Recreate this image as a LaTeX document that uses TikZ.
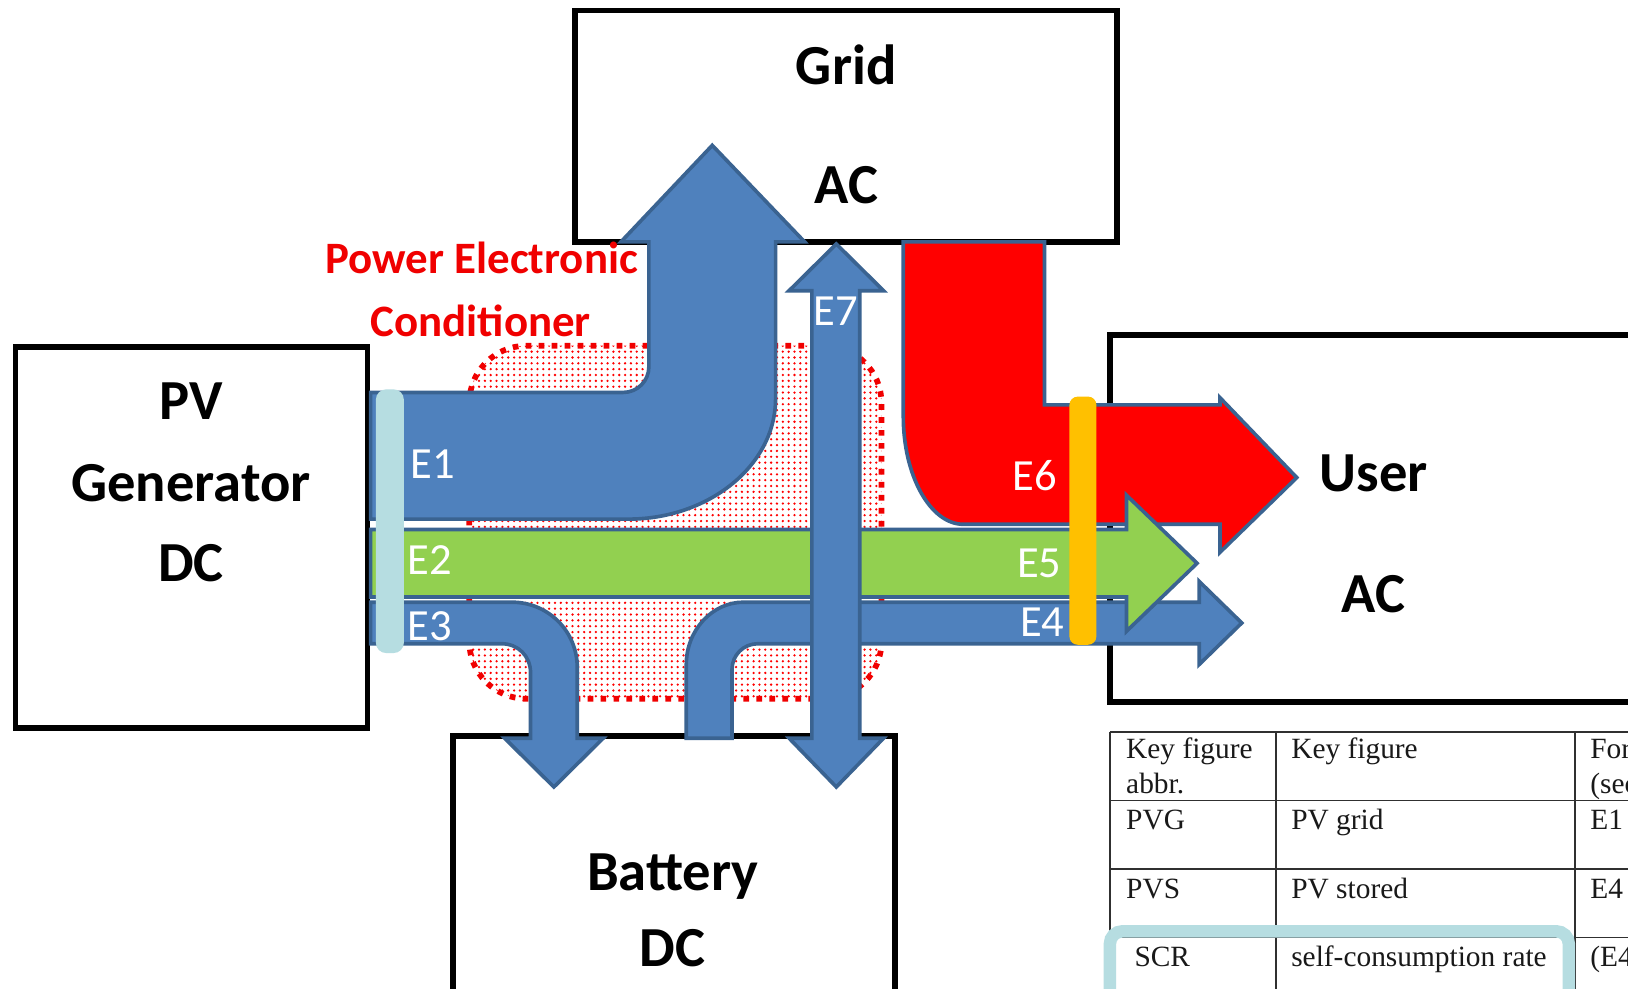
\documentclass[tikz,border=0pt]{standalone}
\usepackage{fontspec}
\setmainfont{Carlito}
\newfontfamily\tabfont{Liberation Serif}
\usetikzlibrary{patterns.meta}
\definecolor{arrblue}{HTML}{4F81BD}
\definecolor{arredge}{HTML}{3A6391}
\definecolor{arrgreen}{HTML}{92D050}
\definecolor{arrred}{HTML}{FF0000}
\definecolor{tealbar}{HTML}{B6DDE1}
\definecolor{orangebar}{HTML}{FFC000}
\definecolor{pecred}{HTML}{F00000}
\definecolor{tabgray}{HTML}{303030}
\begin{document}
\begin{tikzpicture}[x=0.01cm,y=-0.01cm,
  box/.style={draw=black,line width=0.055cm,fill=white},
  flow/.style={draw=arredge,line width=0.035cm,line join=miter},
  bluef/.style={flow,fill=arrblue},
  greenf/.style={flow,fill=arrgreen},
  redf/.style={flow,fill=arrred},
  pecdot/.style={draw=pecred,line width=0.055cm,dash pattern=on 0.055cm off 0.07cm},
  tabline/.style={draw=tabgray,line width=0.015cm},
  big/.style={font=\bfseries\fontsize{15.5}{18}\selectfont,anchor=base,inner sep=0pt},
  pect/.style={font=\bfseries\fontsize{12.3}{14}\selectfont,text=pecred,anchor=base,inner sep=0pt},
  elab/.style={font=\fontsize{12.2}{14}\selectfont,text=white,anchor=base,inner sep=0pt},
  tab/.style={font=\tabfont\fontsize{8.05}{9.4}\selectfont,text=black!90,anchor=base west,inner sep=0pt}
]
\clip (0,0) rectangle (1568,952);
\fill[white] (0,0) rectangle (1568,952);

% boxes
\draw[box] (554,10) rectangle (1076,233);
\draw[box] (15,334) rectangle (354,701);
\draw[box] (1069,323) rectangle (1640,676);
\draw[box] (436,709) rectangle (862,1010);

% table
\draw[tabline] (1069,705) -- (1640,705);
\draw[tabline] (1069,771) -- (1640,771);
\draw[tabline] (1069,837) -- (1640,837);
\draw[tabline] (1069,903) -- (1640,903);
\draw[tabline] (1069,705) -- (1069,1000);
\draw[tabline] (1229,705) -- (1229,1000);
\draw[tabline] (1517,705) -- (1517,1000);

% power electronic conditioner region
\path[pattern={Dots[radius=0.35pt,distance=1.6pt]},pattern color=red,rounded corners=0.55cm] (452,333) rectangle (849,673);
\draw[pecdot,rounded corners=0.55cm] (452,333) rectangle (849,673);

% E6 (red)
\draw[redf] (870,233) -- (1006,233) -- (1006,390) -- (1175,390) -- (1175,383) -- (1249,460) -- (1175,532) -- (1175,505) -- (928,505) .. controls (896,505) and (870,458) .. (870,401) -- cycle;

% E1
\draw[bluef] (357,378) -- (600,378) .. controls (614,378) and (625,367) .. (625,353) -- (625,233) -- (598,233) -- (686,140) -- (775,233) -- (747,233) -- (747,384) .. controls (747,448) and (683,500) .. (605,500) -- (357,500) -- cycle;

% E3
\draw[bluef] (357,580) -- (493,580) .. controls (528,580) and (556,608) .. (556,643) -- (556,711) -- (581,711) -- (533.5,758) -- (486,711) -- (511,711) -- (511,648) .. controls (511,632) and (499,620) .. (483,620) -- (357,620) -- cycle;

% E4
\draw[bluef] (661,711) -- (661,640) .. controls (661,607) and (686,580) .. (716,580) -- (1155,580) -- (1155,560) -- (1196,600) -- (1155,640) -- (1155,620) -- (730,620) .. controls (716,620) and (705,631) .. (705,645) -- (705,711) -- cycle;

% E2 (green)
\draw[greenf] (357,510) -- (1085,510) -- (1085,477) -- (1153,542.5) -- (1085,608) -- (1085,575) -- (357,575) -- cycle;

% E7
\draw[bluef] (782,280) -- (760,280) -- (805.5,235) -- (851,280) -- (828,280) -- (828,711) -- (851,711) -- (805.5,758) -- (760,711) -- (782,711) -- cycle;

% bars
\fill[tealbar,rounded corners=0.1cm] (362,375) rectangle (389,629);
\fill[orangebar,rounded corners=0.08cm] (1030,382) rectangle (1056,621);

% highlight round table row
\draw[tealbar,line width=0.12cm,rounded corners=0.12cm] (1069,897) rectangle (1511,1030);

% box texts
\node[big] (tgrid) at (815,81) {Grid};
\node[big] (tgridac) at (815,196) {AC};
\node[big] (tpv) at (184,404) {PV};
\node[big] (tgen) at (184,483) {Generator};
\node[big] (tpvdc) at (184,560) {DC};
\node[big] (tuser) at (1323,473) {User};
\node[big] (tuserac) at (1323,590) {AC};
\node[big] (tbat) at (648,858) {Battery};
\node[big] (tbatdc) at (648,931) {DC};

% conditioner label
\node[pect] (pec1) at (464,263) {Power Electronic};
\node[pect] (pec2) at (463,324) {Conditioner};

% flow labels
\node[elab] (lE1) at (417,460.5) {E1};
\node[elab] (lE2) at (414,553.5) {E2};
\node[elab] (lE3) at (414,616.5) {E3};
\node[elab] (lE7) at (805,313.5) {E7};
\node[elab] (lE6) at (997,472.5) {E6};
\node[elab] (lE5) at (1001,556.5) {E5};
\node[elab] (lE4) at (1004,613.5) {E4};

% table texts
\node[tab] (c11a) at (1084,731) {Key figure};
\node[tab] (c11b) at (1084,764) {abbr.};
\node[tab] (c12) at (1243,731) {Key figure};
\node[tab] (c13a) at (1531,731) {For};
\node[tab] (c13b) at (1531,764) {(sec};
\node[tab] (c21) at (1084,799) {PVG};
\node[tab] (c22) at (1243,799) {PV grid};
\node[tab] (c23) at (1531,799) {E1};
\node[tab] (c31) at (1084,865) {PVS};
\node[tab] (c32) at (1243,865) {PV stored};
\node[tab] (c33) at (1531,865) {E4};
\node[tab] (c41) at (1092,931) {SCR};
\node[tab] (c42) at (1243,931) {self-consumption rate};
\node[tab] (c43) at (1531,931) {(E4};
\end{tikzpicture}
\end{document}
